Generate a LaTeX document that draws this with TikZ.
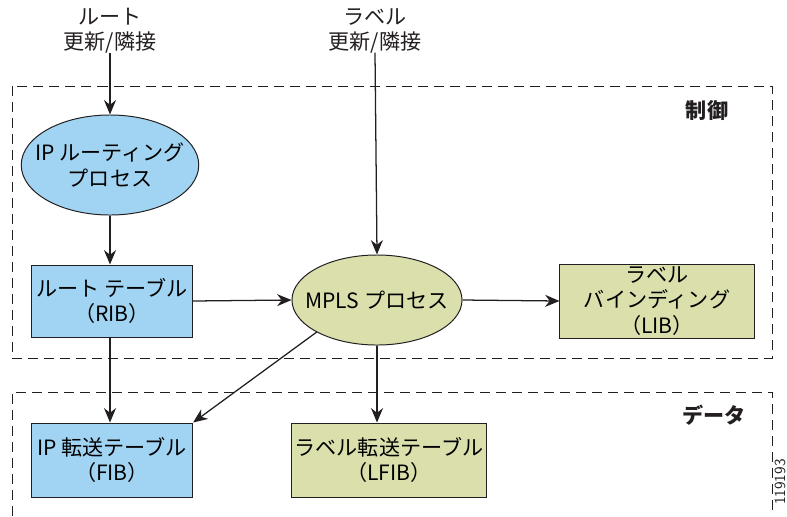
\documentclass[tikz,border=0pt]{standalone}
\usepackage{fontspec}
\setmainfont{Noto Sans CJK JP}
\usepackage{xcolor}
\usetikzlibrary{
    shapes.geometric,
    arrows.meta,
    positioning,
    calc
}
\definecolor{ctrlblue}{HTML}{A0D4F2}
\definecolor{mplsgreen}{HTML}{DADFAB}
\definecolor{dark}{HTML}{231F20}
\tikzset{
    % Process ellipse style
    process/.style={
        ellipse,
        minimum width=4.25cm,
        minimum height=2.4cm,
        inner xsep=-0.3cm,
        inner ysep=0pt,
        align=center,
        font=\fontsize{15}{18}\selectfont,
        draw=dark,
        fill=#1,
        line width=0.7pt
    },
    % Table box style
    tablebox/.style={
        rectangle,
        minimum width=4cm,
        minimum height=1.85cm,
        inner sep=0pt,
        align=center,
        font=\fontsize{15}{18}\selectfont,
        draw=dark,
        fill=#1,
        line width=0.7pt
    },
    % Arrow style
    flow/.style={
        -{Stealth[length=3.6mm, width=3mm]},
        line width=0.9pt,
        color=dark
    },
    % Plane frame style
    plane/.style={
        draw=dark,
        line width=0.6pt,
        dash pattern=on 2.5mm off 1.5mm
    },
    % Input label style
    input text/.style={
        font=\fontsize{15}{18}\selectfont,
        text=dark,
        align=center,
        inner sep=2pt
    },
    % Plane title style
    plane title/.style={
        font=\fontsize{15}{18}\selectfont\bfseries,
        text=dark
    }
}

\begin{document}
\begin{tikzpicture}[x=0.025cm, y=-0.025cm]
        \useasboundingbox (0,0) rectangle (787,516);

        % Control and data planes
        \draw[plane] (12,86) rectangle (772,358);
        \draw[plane] (12,516) -- (12,392) -- (772,392) -- (772,516);
        \node[plane title] (ctrl) at (707,110) {制御};
        \node[plane title] (data) at (714,415) {データ};

        % Inputs
        \node[input text] (rtupd) at (110,31) {ルート\\更新/隣接};
        \node[input text] (lblupd) at (375,31) {ラベル\\更新/隣接};

        % Control plane
        \node[process=ctrlblue, minimum height=2.5cm] (iprp) at (110,165) {IP ルーティング\\プロセス};
        \node[tablebox=ctrlblue, minimum height=1.8cm] (rib) at (112,301) {ルート テーブル\\（RIB）};
        \node[process=mplsgreen, minimum height=2.25cm] (mpls) at (377,300) {MPLS プロセス};
        \node[tablebox=mplsgreen, minimum width=4.85cm] (lib) at (657,301) {ラベル\\バインディング\\（LIB）};

        % Data plane
        \node[tablebox=ctrlblue, minimum width=4.03cm] (fib) at (112,460) {IP 転送テーブル\\（FIB）};
        \node[tablebox=mplsgreen, minimum width=4.88cm] (lfib) at (389,460) {ラベル転送テーブル\\（LFIB）};

        % Connectors
        \draw[flow] (rtupd.south) ++(0,-4) coordinate (rtin) -- (iprp.north);
        \draw[flow] (lblupd.south) ++(0,-4) coordinate (lblin) -- (mpls.north);
        \draw[flow] (iprp.south) -- (iprp.south |- rib.north);
        \draw[flow] (rib.east) -- (mpls.west);
        \draw[flow] (mpls.east) -- (lib.west);
        \draw[flow] (iprp.south |- rib.south) -- (iprp.south |- fib.north);
        \draw[flow] (mpls.south west) -- (fib.north east);
        \draw[flow] (mpls.south) -- (mpls.south |- lfib.north);

        % Figure number
        \node[rotate=90, font=\sffamily\fontsize{11}{12}\selectfont, text=dark] (fignum) at (780,482) {119193};
    \end{tikzpicture}
\end{document}
